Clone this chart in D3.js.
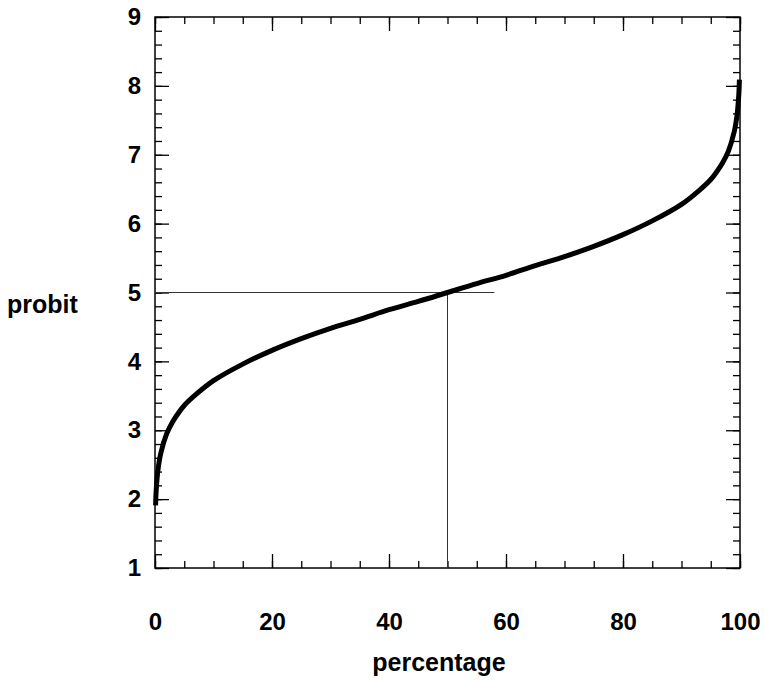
<!DOCTYPE html>
<html>
<head>
<meta charset="utf-8">
<script src="https://cdn.jsdelivr.net/npm/d3@7"></script>
<style>
  body { margin: 0; background: #fff; }
  svg text { font-family: "Liberation Sans", Arial, Helvetica, sans-serif; font-weight: bold; fill: #000; }
</style>
</head>
<body>
<div id="chart"></div>
<script>
// percentage of response and the matching probit value
const percentages = [0.1, 0.2, 0.5, 1, 2, 3, 4, 5, 7, 10, 15, 20, 25, 30, 35, 40, 45, 50,
  55, 60, 65, 70, 75, 80, 85, 90, 93, 95, 96, 97, 98, 99, 99.5, 99.8, 99.9];
const probits = [1.91, 2.12, 2.42, 2.67, 2.95, 3.12, 3.25, 3.36, 3.52, 3.72, 3.96, 4.16, 4.33,
  4.48, 4.61, 4.75, 4.87, 5.0, 5.13, 5.25, 5.39, 5.52, 5.67, 5.84, 6.04, 6.28, 6.48, 6.64,
  6.75, 6.88, 7.05, 7.33, 7.58, 7.88, 8.09];

const xTicks = [0, 20, 40, 60, 80, 100];
const yTicks = [1, 2, 3, 4, 5, 6, 7, 8, 9];

// guide lines through the 50% point
const guideH = { x0: 0, x1: 58, y: 5 };
const guideV = { x: 50, y0: 1, y1: 5 };

const width = 765, height = 680;
const margin = { top: 17, right: 25, bottom: 112, left: 155 };

const svg = d3.select("#chart")
  .append("svg")
  .attr("width", width)
  .attr("height", height);

const x = d3.scaleLinear().domain([0, 100]).range([margin.left, width - margin.right]);
const y = d3.scaleLinear().domain([1, 9]).range([height - margin.bottom, margin.top]);

const minorX = d3.range(0, 100.001, 5);
const minorY = d3.range(1, 9.001, 0.2);
const major = 14, minor = 7;

// ticks pointing inward on all four sides
function tickAxis(axisFn, scale, values, size, offset) {
  const g = svg.append("g")
    .attr("transform", offset)
    .call(axisFn(scale).tickValues(values).tickSize(size).tickFormat(""));
  g.select(".domain").remove();
  g.selectAll("line").attr("stroke", "#000").attr("stroke-width", 1.3);
  return g;
}
const atBottom = `translate(0,${y(1)})`, atTop = `translate(0,${y(9)})`;
const atLeft = `translate(${x(0)},0)`, atRight = `translate(${x(100)},0)`;
tickAxis(d3.axisTop, x, minorX, minor, atBottom);
tickAxis(d3.axisTop, x, d3.range(0, 101, 20), major, atBottom);
tickAxis(d3.axisBottom, x, minorX, minor, atTop);
tickAxis(d3.axisBottom, x, d3.range(0, 101, 20), major, atTop);
tickAxis(d3.axisRight, y, minorY, minor, atLeft);
tickAxis(d3.axisRight, y, yTicks, major, atLeft);
tickAxis(d3.axisLeft, y, minorY, minor, atRight);
tickAxis(d3.axisLeft, y, yTicks, major, atRight);

// frame
svg.append("rect")
  .attr("x", x(0)).attr("y", y(9))
  .attr("width", x(100) - x(0)).attr("height", y(1) - y(9))
  .attr("fill", "none").attr("stroke", "#000").attr("stroke-width", 1.5);

// tick labels
svg.append("g")
  .attr("transform", `translate(0,${y(1)})`)
  .call(d3.axisBottom(x).tickValues(xTicks).tickSize(0).tickPadding(45))
  .call(g => g.select(".domain").remove())
  .selectAll("text")
  .style("font-size", "24px");

svg.append("g")
  .attr("transform", `translate(${x(0)},0)`)
  .call(d3.axisLeft(y).tickValues(yTicks).tickSize(0).tickPadding(14))
  .call(g => g.select(".domain").remove())
  .selectAll("text")
  .style("font-size", "24px");

// guide lines
svg.append("line")
  .attr("x1", x(guideH.x0)).attr("x2", x(guideH.x1))
  .attr("y1", y(guideH.y)).attr("y2", y(guideH.y))
  .attr("stroke", "#333").attr("stroke-width", 1);
svg.append("line")
  .attr("x1", x(guideV.x)).attr("x2", x(guideV.x))
  .attr("y1", y(guideV.y0)).attr("y2", y(guideV.y1))
  .attr("stroke", "#333").attr("stroke-width", 1);

// probit curve
const line = d3.line()
  .x((d, i) => x(percentages[i]))
  .y(d => y(d))
  .curve(d3.curveCatmullRom.alpha(0.5));

svg.append("path")
  .datum(probits)
  .attr("d", line)
  .attr("fill", "none")
  .attr("stroke", "#000")
  .attr("stroke-width", 5);

// axis titles
svg.append("text")
  .attr("x", 439).attr("y", 671)
  .attr("text-anchor", "middle")
  .style("font-size", "25px")
  .text("percentage");

svg.append("text")
  .attr("x", 7).attr("y", 313)
  .style("font-size", "25px")
  .text("probit");
</script>
</body>
</html>
